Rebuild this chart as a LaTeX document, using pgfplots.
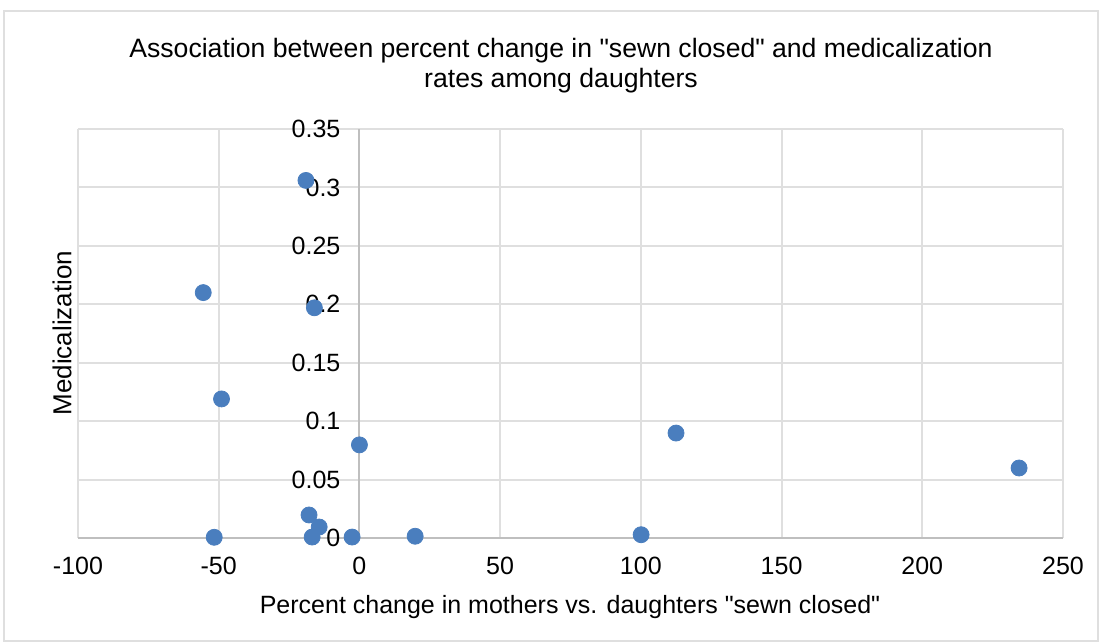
\documentclass[border=0pt]{standalone}
\usepackage{pgfplots}
\pgfplotsset{compat=1.18}
\usepackage{fontspec}
\setmainfont{Liberation Sans}
\newfontfamily\plainfont{Liberation Sans}
\definecolor{ptblue}{RGB}{74,126,190}
\begin{document}
\begin{tikzpicture}
\path[use as bounding box] (-39pt,-52.5pt) rectangle (511pt,269pt);
\draw[gray!25, line width=0.8pt] (-37pt,-51.5pt) rectangle (510pt,263.5pt);
\begin{axis}[
  at={(0pt,0pt)}, anchor=south west,
  scale only axis, width=492.5pt, height=204.5pt,
  xmin=-100, xmax=250, ymin=0, ymax=0.35,
  axis lines=middle,
  axis line style={-, draw=gray!50, line width=1pt},
  grid=major,
  major grid style={draw=gray!25, line width=1pt},
  xtick={-100,-50,0,50,100,150,200,250},
  xticklabels={-100,-50,0,50,100,150,200,250},
  ytick={0,0.05,0.1,0.15,0.2,0.25,0.3,0.35},
  yticklabels={0,0.05,0.1,0.15,0.2,0.25,0.3,0.35},
  major tick length=0pt,
  hide obscured x ticks=false, hide obscured y ticks=false,
  tick label style={font=\plainfont\fontsize{12.5}{14}\selectfont, text=black},
  xticklabel style={anchor=center, yshift=-14pt},
  yticklabel style={anchor=east, xshift=-6pt},
  clip=false,
]
\addplot[only marks, mark=*, mark size=4pt, mark options={draw=ptblue, fill=ptblue}] coordinates {
(-19,0.306)
(-55.5,0.21)
(-16,0.197)
(-49,0.119)
(0,0.0797)
(112.5,0.0898)
(234.4,0.0599)
(-17.9,0.0197)
(-14.3,0.0094)
(-51.6,0.0006)
(-16.8,0.0008)
(-2.6,0.0008)
(19.8,0.0015)
(100.1,0.0028)
};
\end{axis}
\node[align=center, font=\plainfont\fontsize{13.3}{15}\selectfont] at (241.5pt,236pt)
  {Association between percent change in "sewn closed" and medicalization\\rates among daughters};
\node[font=\plainfont\fontsize{12.5}{15}\selectfont] at (246pt,-34.5pt)
  {Percent change in mothers vs. daughters "sewn closed"};
\node[rotate=90, font=\plainfont\fontsize{13}{15}\selectfont] at (-8pt,102.5pt) {Medicalization};
\end{tikzpicture}
\end{document}
